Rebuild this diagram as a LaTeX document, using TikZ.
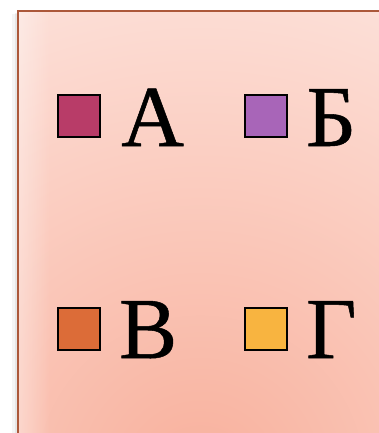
\documentclass[tikz,border=0pt]{standalone}
\usepackage{fontspec}
\newfontfamily\cyrserif[Script=Cyrillic,FakeBold=0.6]{Liberation Serif}
\usetikzlibrary{fadings}
\definecolor{bginner}{RGB}{248,176,156}
\definecolor{bgouter}{RGB}{254,238,234}
\definecolor{frame}{RGB}{172,88,58}
\definecolor{cA}{RGB}{184,60,104}
\definecolor{cB}{RGB}{168,101,184}
\definecolor{cC}{RGB}{220,108,56}
\definecolor{cD}{RGB}{248,180,64}
\tikzfading[name=fadeeast, left color=transparent!0, right color=transparent!100]
\tikzset{
  swatch/.style={draw=black, line width=1.5pt, minimum size=42pt, inner sep=0pt},
  letter/.style={anchor=base west, inner sep=0pt, font=\cyrserif\fontsize{87}{87}\selectfont}
}
\begin{document}
\begin{tikzpicture}[x=1pt,y=-1pt]
\useasboundingbox (0,0) rectangle (379,433);
\fill[white] (0,0) rectangle (379,433);
% shadow
\fill[black, opacity=0.04] (12,14) rectangle (18,433);
\fill[black, opacity=0.06] (15,13) rectangle (18,433);
% background
\begin{scope}
\clip (18,11) rectangle (379,433);
\shade[inner color=bginner, outer color=bgouter] (200,480) circle (660);
\fill[white, opacity=0.35, path fading=fadeeast] (18,11) rectangle (50,433);
\end{scope}
\draw[frame, line width=2pt] (18,440) -- (18,11) -- (390,11);
% swatches
\node[swatch, fill=cA] (sqA) at (79,116) {};
\node[swatch, fill=cB] (sqB) at (266,116) {};
\node[swatch, fill=cC] (sqC) at (79,329) {};
\node[swatch, fill=cD] (sqD) at (266,329) {};
% letters
\node[letter] (lA) at (121,146) {А};
\node[letter] (lB) at (306,146) {Б};
\node[letter] (lC) at (119,358) {В};
\node[letter] (lD) at (306,358) {Г};
\end{tikzpicture}
\end{document}
